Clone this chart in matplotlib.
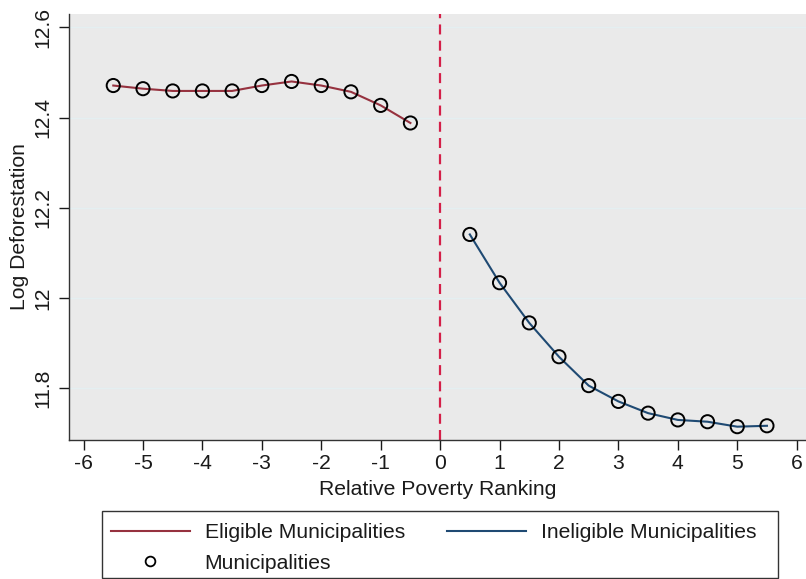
#!/usr/bin/env python3
"""Log deforestation by relative poverty ranking, eligible vs ineligible."""

import matplotlib

matplotlib.use("Agg")
import matplotlib.pyplot as plt
from matplotlib.lines import Line2D
from matplotlib.patches import Rectangle

# data
eligible_x = [-5.5, -5.0, -4.5, -4.0, -3.5, -3.0, -2.5, -2.0, -1.5, -1.0, -0.5]
eligible_y = [12.471, 12.464, 12.459, 12.459, 12.459, 12.471, 12.480, 12.471, 12.457, 12.427, 12.388]
ineligible_x = [0.5, 1.0, 1.5, 2.0, 2.5, 3.0, 3.5, 4.0, 4.5, 5.0, 5.5]
ineligible_y = [12.141, 12.034, 11.945, 11.870, 11.806, 11.771, 11.745, 11.730, 11.726, 11.715, 11.717]
cutoff = 0
x_ticks = list(range(-6, 7))
y_ticks = [11.8, 12.0, 12.2, 12.4, 12.6]
y_tick_labels = ["11.8", "12", "12.2", "12.4", "12.6"]

RED = "#96323f"
BLUE = "#1f4a73"
CUT = "#d41f48"
BG = "#eaeaea"
GRID = "#e4eff1"
INK = "#1a1a1a"
FS = 15.2

plt.rcParams.update({
    "font.family": ["Liberation Sans", "DejaVu Sans"],
    "font.size": FS,
    "text.color": INK,
    "axes.labelcolor": INK,
    "xtick.color": INK,
    "ytick.color": INK,
})

W, H = 806, 579
fig = plt.figure(figsize=(W / 100, H / 100), dpi=100)
ax = fig.add_axes([69 / W, 1 - 440 / H, 1 - 69 / W, (440 - 14) / H])
ax.set_facecolor(BG)

ax.plot(eligible_x, eligible_y, color=RED, linewidth=1.5, zorder=3)
ax.plot(ineligible_x, ineligible_y, color=BLUE, linewidth=1.5, zorder=3)
ax.scatter(eligible_x + ineligible_x, eligible_y + ineligible_y, s=90, facecolor="none",
           edgecolor="black", linewidth=1.4, zorder=4)
ax.axvline(cutoff, color=CUT, linewidth=1.6, dashes=(4.5, 2.8), zorder=2)

ax.set_xlim(-6.245, 6.157)
ax.set_ylim(11.6855, 12.6295)
ax.set_xticks(x_ticks, [str(t) for t in x_ticks])
ax.set_yticks(y_ticks, y_tick_labels, rotation=90, va="center")
ax.tick_params(axis="both", length=7, width=1.0, labelsize=FS, pad=3)
ax.tick_params(axis="y", pad=5)
ax.grid(axis="y", color=GRID, linewidth=1.0)
ax.set_axisbelow(True)
for side in ("top", "right"):
    ax.spines[side].set_visible(False)
for side in ("left", "bottom"):
    ax.spines[side].set_linewidth(1.0)
    ax.spines[side].set_color("#333333")

ax.set_xlabel("Relative Poverty Ranking", fontsize=FS, labelpad=5)
ax.set_ylabel("Log Deforestation", fontsize=FS, labelpad=3)

# legend: rows are (Eligible, Ineligible) then (Municipalities)
handles = [
    Line2D([], [], color=RED, linewidth=1.5),
    Line2D([], [], linestyle="none", marker="o", markersize=7, markerfacecolor="none",
           markeredgecolor="black", markeredgewidth=1.3),
    Line2D([], [], color=BLUE, linewidth=1.5),
]
labels = ["Eligible Municipalities", "Municipalities", "Ineligible Municipalities"]
fig.legend(handles, labels, ncol=2, loc="upper left",
           bbox_to_anchor=(110.7 / W, 1 - 523 / H), frameon=False, fontsize=FS,
           handlelength=3.75, handletextpad=0.7, columnspacing=2.0,
           borderaxespad=0, borderpad=0, labelspacing=0.55)
fig.patches.append(Rectangle((101.7 / W, 1 - 578 / H), (778 - 101.7) / W, (578 - 510.7) / H,
                             transform=fig.transFigure, fill=False, edgecolor="#333333",
                             linewidth=1.0))

fig.savefig("out.png", dpi=100)
